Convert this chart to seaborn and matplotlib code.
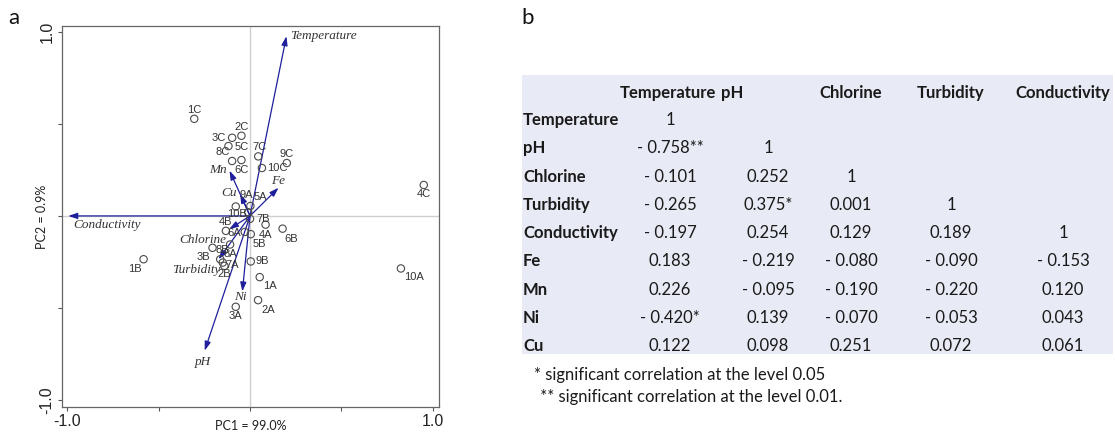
import numpy as np
import pandas as pd
import matplotlib
matplotlib.use("Agg")
import matplotlib.pyplot as plt
import seaborn as sns

# ---------------- data: PCA biplot (panel a) ----------------
samples = ["1C", "2C", "3C", "8C", "6C", "5C", "7C", "10C", "9C", "4C",
           "10B", "5A", "9A", "7B", "4B", "6A", "4A", "6B", "5B",
           "3B", "8B", "8A", "7A", "2B", "9B", "1A", "2A", "3A", "1B", "10A"]
pc1 = [-0.305, -0.047, -0.098, -0.118, -0.098, -0.047, 0.045, 0.065, 0.201, 0.950,
       -0.078, 0.002, -0.010, 0.000, -0.132, -0.029, 0.085, 0.178, 0.004,
       -0.205, -0.109, -0.163, -0.149, -0.140, 0.004, 0.053, 0.044, -0.078, -0.582, 0.825]
pc2 = [0.527, 0.435, 0.424, 0.379, 0.298, 0.303, 0.323, 0.260, 0.287, 0.168,
       0.051, 0.054, 0.020, -0.016, -0.081, -0.087, -0.047, -0.069, -0.099,
       -0.173, -0.155, -0.235, -0.253, -0.271, -0.247, -0.332, -0.457, -0.493, -0.235, -0.285]

variables = ["Temperature", "Conductivity", "Mn", "Fe", "Cu", "Chlorine", "Turbidity", "Ni", "pH"]
load1 = [0.199, -0.994, -0.112, 0.156, -0.054, -0.114, -0.172, -0.042, -0.248]
load2 = [0.975, 0.000, 0.246, 0.153, 0.119, -0.072, -0.235, -0.410, -0.731]

pc1_label = "PC1 = 99.0%"
pc2_label = "PC2 = 0.9%"

# ---------------- data: correlation table (panel b) ----------------
col_names = ["Temperature", "pH", "Chlorine", "Turbidity", "Conductivity"]
row_names = ["Temperature", "pH", "Chlorine", "Turbidity", "Conductivity", "Fe", "Mn", "Ni", "Cu"]
corr_temperature = [1, -0.758, -0.101, -0.265, -0.197, 0.183, 0.226, -0.420, 0.122]
corr_ph = [None, 1, 0.252, 0.375, 0.254, -0.219, -0.095, 0.139, 0.098]
corr_chlorine = [None, None, 1, 0.001, 0.129, -0.080, -0.190, -0.070, 0.251]
corr_turbidity = [None, None, None, 1, 0.189, -0.090, -0.220, -0.053, 0.072]
corr_conductivity = [None, None, None, None, 1, -0.153, 0.120, 0.043, 0.061]
sig_temperature = ["", "**", "", "", "", "", "", "*", ""]
sig_ph = ["", "", "", "*", "", "", "", "", ""]
footnotes = ["* significant correlation at the level 0.05",
             " ** significant correlation at the level 0.01."]

# ---------------- styling (label placement offsets in pixels) ----------------
sample_offsets = {
    "1C": (0, 9), "2C": (0, 9), "3C": (-13, 0), "8C": (-6, -6), "6C": (9, -9),
    "5C": (0, 13), "7C": (1, 9), "10C": (15, 0), "9C": (0, 9), "4C": (0, -9),
    "10B": (1, -7), "5A": (10, 9), "9A": (-2, 17), "7B": (13, 0), "4B": (0, 9),
    "6A": (-11, -1), "4A": (0, -10), "6B": (9, -10), "5B": (9, -10),
    "3B": (-9, -9), "8B": (-8, -6), "8A": (10, 5), "7A": (9, -2), "2B": (0, -8),
    "9B": (11, 0), "1A": (10, -9), "2A": (10, -10), "3A": (0, -9), "1B": (-9, -10),
    "10A": (13, -9),
}
var_offsets = {
    "Temperature": (4, 0, "left", "center"),
    "Conductivity": (5, -9, "left", "center"),
    "Mn": (-3, 1, "right", "center"),
    "Fe": (0, 7, "center", "center"),
    "Cu": (-3, 1, "right", "center"),
    "Chlorine": (-3, -11, "right", "center"),
    "Turbidity": (2, -11, "right", "center"),
    "Ni": (-2, -6, "center", "center"),
    "pH": (-2, -11, "center", "center"),
}
arrow_color = "#1f1f9c"

sns.set_theme(style="white")
plt.rcParams["font.family"] = ["Liberation Sans", "DejaVu Sans"]

fig = plt.figure(figsize=(11.15, 4.32), dpi=100)

# ---------------- panel a ----------------
ax = fig.add_axes([0.0553, 0.0586, 0.3387, 0.881])
ax.axhline(0, color="#cfcfcf", lw=1.0, zorder=0)
ax.axvline(0, color="#cfcfcf", lw=1.0, zorder=0)

df = pd.DataFrame({"PC1": pc1, "PC2": pc2, "sample": samples})
sns.scatterplot(data=df, x="PC1", y="PC2", ax=ax, s=28, marker="o",
                facecolor="none", edgecolor="#4a4a4a", linewidth=0.8, zorder=3)

for name, x, y in zip(samples, pc1, pc2):
    dx, dy = sample_offsets.get(name, (0, 0))
    ax.annotate(name, (x, y), xytext=(dx, dy), textcoords="offset pixels",
                ha="center", va="center", fontsize=8, color="#333333", zorder=4)

for name, x, y in zip(variables, load1, load2):
    ax.annotate("", xy=(x, y), xytext=(0, 0),
                arrowprops=dict(arrowstyle="-|>,head_length=0.45,head_width=0.15",
                                color=arrow_color, lw=0.9, shrinkA=0, shrinkB=0),
                zorder=2)
    dx, dy, ha, va = var_offsets[name]
    ax.annotate(name, (x, y), xytext=(dx, dy), textcoords="offset pixels",
                ha=ha, va=va, fontsize=9.5, style="italic",
                family=["Liberation Serif", "DejaVu Serif"], color="#333333", zorder=5)

ax.set_xlim(-1.03, 1.035)
ax.set_ylim(-1.035, 1.03)
ax.set_xticks([-1.0, -0.5, 0, 0.5, 1.0])
ax.set_xticklabels(["-1.0", "", "", "", "1.0"])
ax.set_yticks([-1.0, -0.5, 0, 0.5, 1.0])
ax.set_yticklabels(["-1.0", "", "", "", "1.0"], rotation=90, va="center")
ax.tick_params(axis="both", which="both", direction="out", length=3, width=0.8,
               color="#555555", labelsize=11.5, labelcolor="#222222", pad=2,
               bottom=True, left=True)
for sp in ax.spines.values():
    sp.set_color("#666666")
    sp.set_linewidth(0.9)
ax.set_xlabel(pc1_label, fontsize=9, family=["Lato", "DejaVu Sans"], labelpad=-6, color="#222222")
ax.set_ylabel(pc2_label, fontsize=9, family=["Lato", "DejaVu Sans"], labelpad=-6, color="#222222")

fig.text(14 / 1115, 1 - 18 / 432, "a", fontsize=16, family=["Lato", "DejaVu Sans"],
         ha="center", va="center", color="#111111")
fig.text(528 / 1115, 1 - 18 / 432, "b", fontsize=16, family=["Lato", "DejaVu Sans"],
         ha="center", va="center", color="#111111")

# ---------------- panel b: table ----------------
tax = fig.add_axes([0, 0, 1, 1])
tax.set_xlim(0, 1115)
tax.set_ylim(432, 0)
tax.axis("off")
tax.add_patch(plt.Rectangle((522, 75), 591, 279, facecolor="#e8eaf5", edgecolor="none"))

tfont = ["Lato", "DejaVu Sans"]
tsize = 12
row_y0, row_dy = 120, 28.3
header_y = 93
col_x = [670, 768, 851, 951, 1063]
header_x = [620, 721, 851, 951, 1063]
header_ha = ["left", "left", "center", "center", "center"]

for hx, ha, name in zip(header_x, header_ha, col_names):
    tax.text(hx, header_y, name, ha=ha, va="center", fontsize=tsize,
             fontweight="bold", family=tfont, color="#1a1a1a")

def fmt(v, s):
    if v is None:
        return ""
    if v == 1:
        return "1"
    txt = "%.3f" % abs(v)
    if v < 0:
        txt = "- " + txt
    return txt + s

columns = [
    (corr_temperature, sig_temperature),
    (corr_ph, sig_ph),
    (corr_chlorine, [""] * 9),
    (corr_turbidity, [""] * 9),
    (corr_conductivity, [""] * 9),
]
for i, rname in enumerate(row_names):
    y = row_y0 + i * row_dy
    tax.text(523, y, rname, ha="left", va="center", fontsize=tsize,
             fontweight="bold", family=tfont, color="#1a1a1a")
    for cx, (vals, sigs) in zip(col_x, columns):
        t = fmt(vals[i], sigs[i])
        if t:
            tax.text(cx, y, t, ha="center", va="center", fontsize=tsize,
                     family=tfont, color="#1a1a1a")

tax.text(534, 375, footnotes[0], ha="left", va="center", fontsize=tsize,
         family=tfont, color="#1a1a1a")
tax.text(536, 397, footnotes[1], ha="left", va="center", fontsize=tsize,
         family=tfont, color="#1a1a1a")

fig.savefig("out.png", dpi=100)
